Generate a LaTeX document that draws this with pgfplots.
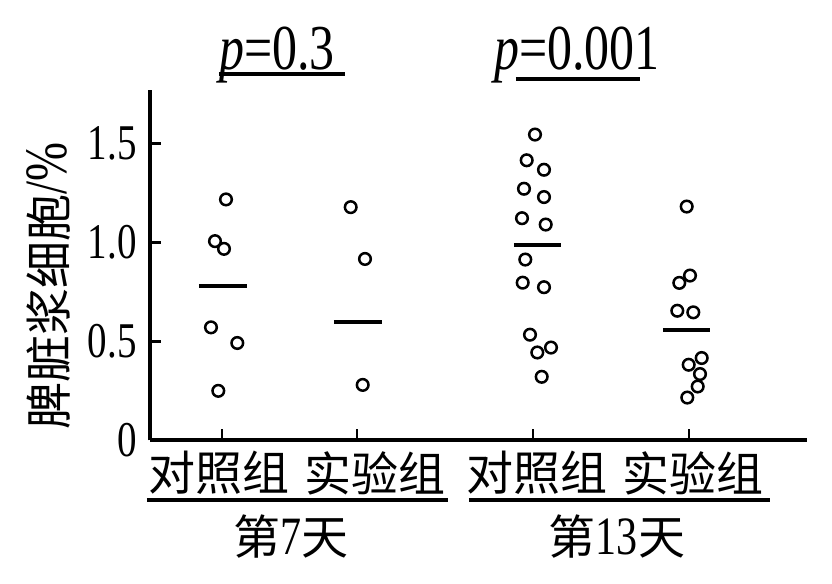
\documentclass[border=0pt]{standalone}
\usepackage{fontspec}
\setmainfont{Liberation Serif}[FakeStretch=0.78]
\newfontfamily\cjk{Noto Sans CJK SC}
\usepackage{pgfplots}
\pgfplotsset{compat=1.18}

\begin{document}
\begin{tikzpicture}
\begin{axis}[
  scale only axis,
  width=328.5pt, height=175pt,
  xmin=150, xmax=807, ymin=0, ymax=1.77,
  axis x line=bottom, axis y line=left,
  axis line style={-, line width=1.9pt},
  xtick={222,357,533,689}, xticklabels={},
  ytick={0,0.5,1,1.5}, yticklabels={0,0.5,1.0,1.5},
  tick align=inside, major tick length=5.5pt,
  major tick style={line width=1.3pt, black},
  yticklabel style={font=\fontsize{25}{25}\selectfont, inner sep=0pt, xshift=-6.5pt},
  /pgf/number format/assume math mode=true,
  clip=false,
]
% day 7, control
\addplot[only marks, mark=o, mark size=2.9pt, mark options={line width=1.25pt}, black] table {
226.0 1.218
215.0 1.007
224.0 0.968
211.0 0.571
237.3 0.492
218.3 0.250
};
% day 7, treatment
\addplot[only marks, mark=o, mark size=2.9pt, mark options={line width=1.25pt}, black] table {
350.7 1.179
365.0 0.917
362.7 0.280
};
% day 13, control
\addplot[only marks, mark=o, mark size=2.9pt, mark options={line width=1.25pt}, black] table {
535.0 1.546
526.7 1.416
544.0 1.368
524.0 1.272
544.0 1.230
522.0 1.123
545.7 1.091
525.3 0.914
522.7 0.797
544.0 0.774
530.0 0.534
551.0 0.469
537.3 0.444
541.7 0.321
};
% day 13, treatment
\addplot[only marks, mark=o, mark size=2.9pt, mark options={line width=1.25pt}, black] table {
686.7 1.182
690.0 0.833
679.3 0.796
677.3 0.655
693.3 0.647
701.7 0.416
688.7 0.382
700.0 0.335
697.7 0.272
687.3 0.216
};
% means
\addplot[black, line width=2pt] coordinates {(199,0.782) (247,0.782)};
\addplot[black, line width=2pt] coordinates {(334,0.596) (382,0.596)};
\addplot[black, line width=2pt] coordinates {(514,0.990) (561,0.990)};
\addplot[black, line width=2pt] coordinates {(663,0.557) (710,0.557)};

% group labels
\node[font=\cjk\fontsize{23.5}{24}\selectfont] at (axis cs:219,-0.166) {对照组};
\node[font=\cjk\fontsize{23.5}{24}\selectfont] at (axis cs:375,-0.166) {实验组};
\node[font=\cjk\fontsize{23.5}{24}\selectfont] at (axis cs:537,-0.166) {对照组};
\node[font=\cjk\fontsize{23.5}{24}\selectfont] at (axis cs:693,-0.166) {实验组};
\draw[line width=2pt] (axis cs:147,-0.302) -- (axis cs:448,-0.302);
\draw[line width=2pt] (axis cs:469,-0.302) -- (axis cs:770,-0.302);
\node[font=\fontsize{23.5}{24}\selectfont] at (axis cs:291,-0.485) {{\cjk 第}{\fontsize{27}{27}\selectfont 7}{\cjk 天}};
\node[font=\fontsize{23.5}{24}\selectfont] at (axis cs:617,-0.485) {{\cjk 第}{\fontsize{27}{27}\selectfont 13}{\cjk 天}};

% p values
\node[anchor=base, font=\fontsize{32}{32}\selectfont] at (axis cs:277,1.877) {\textit{p}=0.3};
\node[anchor=base, font=\fontsize{32}{32}\selectfont] at (axis cs:577,1.877) {\textit{p}=0.001};
\draw[line width=2pt] (axis cs:219,1.851) -- (axis cs:345,1.851);
\draw[line width=2pt] (axis cs:516,1.826) -- (axis cs:640,1.826);

% y label
\node[rotate=90, anchor=base, font=\fontsize{23.5}{24}\selectfont] at (axis cs:67,0.78) {{\cjk 脾脏浆细胞}{\fontsize{30}{30}\selectfont /\%}};

% page frame
\path (axis cs:0,-0.7233) rectangle (axis cs:832,2.2266);
\end{axis}
\end{tikzpicture}
\end{document}
